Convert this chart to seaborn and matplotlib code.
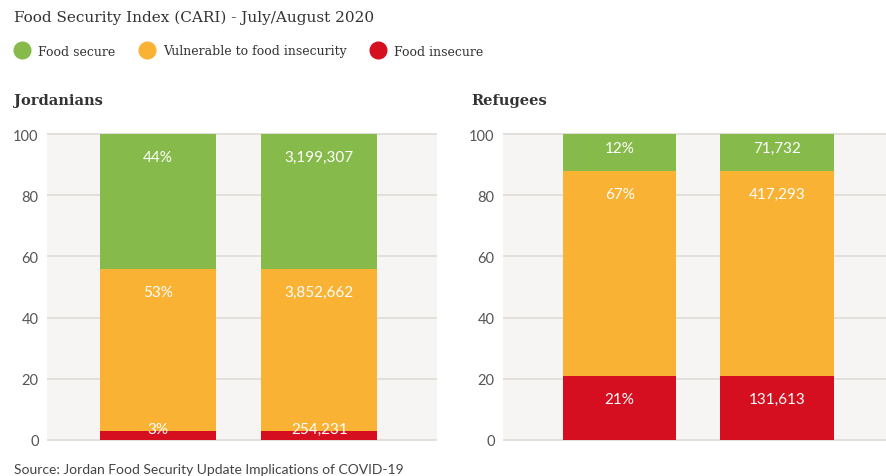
import pandas as pd
import matplotlib.pyplot as plt
import seaborn as sns
from matplotlib.lines import Line2D

# Chart data
groups = ["Jordanians", "Refugees"]
categories = ["Food secure", "Vulnerable to food insecurity", "Food insecure"]
colors = ["#86ba4a", "#f9b233", "#d50f1f"]

jordan_pct = [44, 53, 3]
jordan_count = [3199307, 3852662, 254231]
refugee_pct = [12, 67, 21]
refugee_count = [71732, 417293, 131613]

bars = ["share", "people"]

sns.set_style("white")
plt.rcParams["font.family"] = ["Lato", "DejaVu Sans"]

# Build a long table: one row per bar and category, with stacked tops.
# Both bars use the percentage heights; the second one is labelled with counts.
rows = []
for group, pct, count in [("Jordanians", jordan_pct, jordan_count),
                          ("Refugees", refugee_pct, refugee_count)]:
    for bar, labels in [("share", [f"{p}%" for p in pct]),
                        ("people", [f"{c:,}" for c in count])]:
        top = 0
        # stack from the bottom: insecure, vulnerable, secure
        for i in [2, 1, 0]:
            top += pct[i]
            rows.append({"group": group, "bar": bar, "category": categories[i],
                         "value": pct[i], "top": top, "label": labels[i]})
df = pd.DataFrame(rows)

fig = plt.figure(figsize=(8.86, 4.77), dpi=100)
axes = [fig.add_axes([0.053, 0.0734, 0.440, 0.6457]),
        fig.add_axes([0.5677, 0.0734, 0.4323, 0.6457])]
xlims = [(-0.69, 1.73), (-0.74, 1.69)]

for ax, group, xl in zip(axes, groups, xlims):
    sub = df[df["group"] == group]
    ax.set_facecolor("#f6f5f3")
    # draw tallest stack first so shorter ones sit on top
    for cat, col in zip(categories, colors):
        part = sub[sub["category"] == cat]
        sns.barplot(data=part, x="bar", y="top", order=bars, color=col,
                    width=0.72, saturation=1, linewidth=0, ax=ax, zorder=3)
    for _, r in sub.iterrows():
        xi = bars.index(r["bar"])
        y = r["top"] - min(7.5, r["value"] * 0.38)
        y = max(y, 3.6)
        ax.text(xi, y, r["label"], ha="center", va="center", color="white",
                fontsize=11, zorder=5)
    ax.set_ylim(-0.4, 100.4)
    ax.set_xlim(*xl)
    ax.set_yticks(range(0, 101, 20))
    ax.yaxis.grid(True, color="#e2ddd8", linewidth=1.3, zorder=0)
    ax.set_axisbelow(True)
    ax.set_xticks([])
    ax.set_xlabel("")
    ax.set_ylabel("")
    ax.tick_params(axis="y", length=0, labelsize=10.5, labelcolor="#555555", pad=6)
    for s in ax.spines.values():
        s.set_visible(False)

fig.text(14 / 886, 1 - 18 / 477, "Food Security Index (CARI) - July/August 2020",
         fontsize=11, family="DejaVu Serif", color="#333333", va="center")
fig.text(14 / 886, 1 - 101 / 477, "Jordanians", fontsize=10.5, family="DejaVu Serif",
         weight="bold", color="#333333", va="center")
fig.text(471 / 886, 1 - 101 / 477, "Refugees", fontsize=10.5, family="DejaVu Serif",
         weight="bold", color="#333333", va="center")
fig.text(14 / 886, 1 - 470 / 477,
         "Source: Jordan Food Security Update Implications of COVID-19",
         fontsize=10, color="#444444", va="center")

handles = [Line2D([], [], marker="o", linestyle="", markersize=12,
                  markerfacecolor=c, markeredgecolor=c) for c in colors]
fig.legend(handles, categories, loc="center left", bbox_to_anchor=(16 / 886, 1 - 52 / 477),
           ncol=3, frameon=False, handlelength=1.0, handletextpad=0.8,
           columnspacing=2.0, borderpad=0, borderaxespad=0,
           prop={"family": "DejaVu Serif", "size": 9}, labelcolor="#333333")

fig.savefig("out.png", dpi=100)
